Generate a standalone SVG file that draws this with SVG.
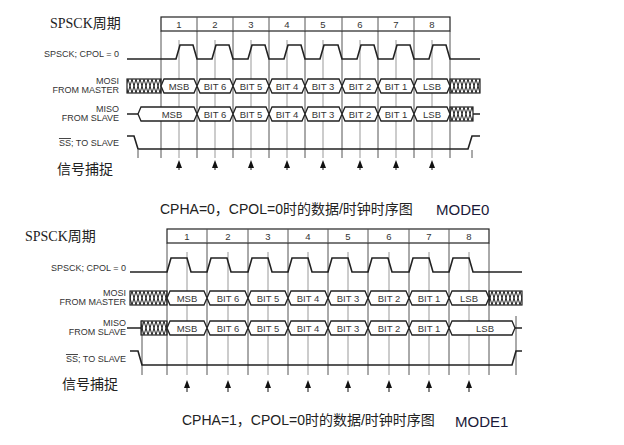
<svg xmlns="http://www.w3.org/2000/svg" width="624" height="445" viewBox="0 0 624 445">
<defs>
<pattern id="hT" width="4" height="14" patternUnits="userSpaceOnUse" y="79"><path d="M0,0 L4,14 M0,14 L4,0" stroke="#222" stroke-width="1" fill="none"/></pattern>
<pattern id="hT2" width="4" height="14" patternUnits="userSpaceOnUse" y="107"><path d="M0,0 L4,14 M0,14 L4,0" stroke="#222" stroke-width="1" fill="none"/></pattern>
<pattern id="hB" width="4" height="14" patternUnits="userSpaceOnUse" y="291"><path d="M0,0 L4,14 M0,14 L4,0" stroke="#222" stroke-width="1" fill="none"/></pattern>
<pattern id="hB2" width="4" height="14" patternUnits="userSpaceOnUse" y="321"><path d="M0,0 L4,14 M0,14 L4,0" stroke="#222" stroke-width="1" fill="none"/></pattern>
<path id="ah" d="M-3,8 L0,0 L3,8 Z" fill="#111"/>
</defs>
<style>
.lb{font-family:"Liberation Sans",Arial,sans-serif;font-size:9px;fill:#333;text-anchor:end}
.ct{font-family:"Liberation Sans",Arial,sans-serif;font-size:9.5px;fill:#333;text-anchor:middle}
.hd{font-family:"Liberation Serif","Noto Sans CJK SC",serif;font-size:14px;fill:#222}
.cn{font-family:"Noto Sans CJK SC",sans-serif;font-size:14px;fill:#222}
.cap{font-family:"Liberation Sans","Noto Sans CJK SC",sans-serif;font-size:14px;fill:#222}
.mode{font-family:"Liberation Sans",Arial,sans-serif;font-size:15px;fill:#1a1a3a}
.w{fill:none;stroke:#222;stroke-width:1.6}
.cell{fill:#fff;stroke:#222;stroke-width:1.3}
.g{stroke:#555;stroke-width:1}
.gl{stroke:#999;stroke-width:1}
.ar{stroke:#111;stroke-width:1}
</style>

<g id="top">
<g id="top-guides">
<path class="g" d="M161,31V158 M197,31V158 M233,31V158 M269,31V158 M305,31V158 M342,31V158 M378,31V158 M414,31V158 M450,31V158 M138,150V158 M472,150V158"/>
<path class="gl" d="M179,40V158 M215,40V158 M251,40V158 M287,40V158 M323,40V158 M360,40V158 M396,40V158 M432,40V158"/>
</g>
<g id="top-header">
<rect x="161" y="17" width="289" height="14" fill="#fff" stroke="#222" stroke-width="1.2"/>
<path class="g" stroke="#222" d="M197,17V31 M233,17V31 M269,17V31 M305,17V31 M342,17V31 M378,17V31 M414,17V31"/>
<text class="ct" x="179" y="28">1</text><text class="ct" x="215" y="28">2</text><text class="ct" x="251" y="28">3</text><text class="ct" x="287" y="28">4</text><text class="ct" x="323" y="28">5</text><text class="ct" x="360" y="28">6</text><text class="ct" x="396" y="28">7</text><text class="ct" x="432" y="28">8</text>
</g>
<g id="top-clk"><path class="w" d="M127,59 H176 L180,45 H193 L197,59 H212 L216,45 H229 L233,59 H248 L252,45 H265 L269,59 H284 L288,45 H301 L305,59 H320 L324,45 H338 L342,59 H357 L361,45 H374 L378,59 H393 L397,45 H410 L414,59 H429 L433,45 H446 L450,59 H480"/></g>
<g id="top-mosi">
<rect x="127" y="79" width="34" height="14" fill="url(#hT)" stroke="#222" stroke-width="1.2"/>
<rect x="450" y="79" width="30" height="14" fill="url(#hT)" stroke="#222" stroke-width="1.2"/>
<path class="cell" d="M161,86 L164,79 H194 L197,86 L194,93 H164 Z M197,86 L200,79 H230 L233,86 L230,93 H200 Z M233,86 L236,79 H266 L269,86 L266,93 H236 Z M269,86 L272,79 H302 L305,86 L302,93 H272 Z M305,86 L308,79 H339 L342,86 L339,93 H308 Z M342,86 L345,79 H375 L378,86 L375,93 H345 Z M378,86 L381,79 H411 L414,86 L411,93 H381 Z M414,86 L417,79 H447 L450,86 L447,93 H417 Z"/>
<text class="ct" x="179" y="89.5">MSB</text><text class="ct" x="215" y="89.5">BIT 6</text><text class="ct" x="251" y="89.5">BIT 5</text><text class="ct" x="287" y="89.5">BIT 4</text><text class="ct" x="323" y="89.5">BIT 3</text><text class="ct" x="360" y="89.5">BIT 2</text><text class="ct" x="396" y="89.5">BIT 1</text><text class="ct" x="432" y="89.5">LSB</text>
</g>
<g id="top-miso">
<path class="w" d="M127,114 H138 M473,114 H480"/>
<rect x="450" y="107" width="23" height="14" fill="url(#hT2)" stroke="#222" stroke-width="1.2"/>
<path class="cell" d="M138,114 L141,107 H194 L197,114 L194,121 H141 Z M197,114 L200,107 H230 L233,114 L230,121 H200 Z M233,114 L236,107 H266 L269,114 L266,121 H236 Z M269,114 L272,107 H302 L305,114 L302,121 H272 Z M305,114 L308,107 H339 L342,114 L339,121 H308 Z M342,114 L345,107 H375 L378,114 L375,121 H345 Z M378,114 L381,107 H411 L414,114 L411,121 H381 Z M414,114 L417,107 H447 L450,114 L447,121 H417 Z"/>
<text class="ct" x="172" y="117.5">MSB</text><text class="ct" x="215" y="117.5">BIT 6</text><text class="ct" x="251" y="117.5">BIT 5</text><text class="ct" x="287" y="117.5">BIT 4</text><text class="ct" x="323" y="117.5">BIT 3</text><text class="ct" x="360" y="117.5">BIT 2</text><text class="ct" x="396" y="117.5">BIT 1</text><text class="ct" x="432" y="117.5">LSB</text>
</g>
<g id="top-ss"><path class="w" d="M127,136 H134 L138,149 H468 L472,136 H480"/></g>
<g id="top-arrows">
<path class="ar" d="M179,170V166 M215,170V166 M251,170V166 M287,170V166 M323,170V166 M360,170V166 M396,170V166 M432,170V166"/>
<use href="#ah" x="179" y="160"/><use href="#ah" x="215" y="160"/><use href="#ah" x="251" y="160"/><use href="#ah" x="287" y="160"/><use href="#ah" x="323" y="160"/><use href="#ah" x="360" y="160"/><use href="#ah" x="396" y="160"/><use href="#ah" x="432" y="160"/>
</g>
<g id="top-labels">
<text class="hd" x="50" y="28">SPSCK周期</text>
<text class="lb" x="119" y="57">SPSCK; CPOL = 0</text>
<text class="lb" x="119" y="84">MOSI</text><text class="lb" x="119" y="93">FROM MASTER</text>
<text class="lb" x="119" y="112">MISO</text><text class="lb" x="119" y="121">FROM SLAVE</text>
<text class="lb" x="119" y="146"><tspan text-decoration="overline">SS</tspan>; TO SLAVE</text>
<text class="cn" x="57" y="174">信号捕捉</text>
<text class="cap" x="160" y="214">CPHA=0，CPOL=0时的数据/时钟时序图</text>
<text class="mode" x="436" y="215">MODE0</text>
</g>
</g>

<g id="bottom">
<g id="bot-guides">
<path class="g" d="M167,243V375 M207,243V375 M248,243V375 M288,243V375 M328,243V375 M368,243V375 M409,243V375 M449,243V375 M489,243V375 M142,320V375 M516,316V375"/>
<path class="gl" d="M187,252V375 M228,252V375 M268,252V375 M308,252V375 M348,252V375 M389,252V375 M429,252V375 M469,252V375"/>
</g>
<g id="bot-header">
<rect x="167" y="229" width="322" height="14" fill="#fff" stroke="#222" stroke-width="1.2"/>
<path class="g" stroke="#222" d="M207,229V243 M248,229V243 M288,229V243 M328,229V243 M368,229V243 M409,229V243 M449,229V243"/>
<text class="ct" x="187" y="240">1</text><text class="ct" x="228" y="240">2</text><text class="ct" x="268" y="240">3</text><text class="ct" x="308" y="240">4</text><text class="ct" x="348" y="240">5</text><text class="ct" x="389" y="240">6</text><text class="ct" x="429" y="240">7</text><text class="ct" x="469" y="240">8</text>
</g>
<g id="bot-clk"><path class="w" d="M130,272 H167 L171,258 H187 L191,272 H207 L211,258 H227 L231,272 H248 L252,258 H268 L272,272 H288 L292,258 H308 L312,272 H328 L332,258 H348 L352,272 H368 L372,258 H388 L392,272 H409 L413,258 H429 L433,272 H449 L453,258 H469 L473,272 H522"/></g>
<g id="bot-mosi">
<rect x="130" y="291" width="37" height="14" fill="url(#hB)" stroke="#222" stroke-width="1.2"/>
<rect x="489" y="291" width="33" height="14" fill="url(#hB)" stroke="#222" stroke-width="1.2"/>
<path class="cell" d="M167,298 L170,291 H204 L207,298 L204,305 H170 Z M207,298 L210,291 H245 L248,298 L245,305 H210 Z M248,298 L251,291 H285 L288,298 L285,305 H251 Z M288,298 L291,291 H325 L328,298 L325,305 H291 Z M328,298 L331,291 H365 L368,298 L365,305 H331 Z M368,298 L371,291 H406 L409,298 L406,305 H371 Z M409,298 L412,291 H446 L449,298 L446,305 H412 Z M449,298 L452,291 H486 L489,298 L486,305 H452 Z"/>
<text class="ct" x="187" y="301.5">MSB</text><text class="ct" x="228" y="301.5">BIT 6</text><text class="ct" x="268" y="301.5">BIT 5</text><text class="ct" x="308" y="301.5">BIT 4</text><text class="ct" x="348" y="301.5">BIT 3</text><text class="ct" x="389" y="301.5">BIT 2</text><text class="ct" x="429" y="301.5">BIT 1</text><text class="ct" x="469" y="301.5">LSB</text>
</g>
<g id="bot-miso">
<path class="w" d="M127,328 H141 M515,328 H522"/>
<rect x="141" y="321" width="26" height="14" fill="url(#hB2)" stroke="#222" stroke-width="1.2"/>
<path class="cell" d="M167,328 L170,321 H204 L207,328 L204,335 H170 Z M207,328 L210,321 H245 L248,328 L245,335 H210 Z M248,328 L251,321 H285 L288,328 L285,335 H251 Z M288,328 L291,321 H325 L328,328 L325,335 H291 Z M328,328 L331,321 H365 L368,328 L365,335 H331 Z M368,328 L371,321 H406 L409,328 L406,335 H371 Z M409,328 L412,321 H446 L449,328 L446,335 H412 Z M449,328 L452,321 H512 L515,328 L512,335 H452 Z"/>
<text class="ct" x="187" y="331.5">MSB</text><text class="ct" x="228" y="331.5">BIT 6</text><text class="ct" x="268" y="331.5">BIT 5</text><text class="ct" x="308" y="331.5">BIT 4</text><text class="ct" x="348" y="331.5">BIT 3</text><text class="ct" x="389" y="331.5">BIT 2</text><text class="ct" x="429" y="331.5">BIT 1</text><text class="ct" x="485" y="331.5">LSB</text>
</g>
<g id="bot-ss"><path class="w" d="M130,351 H138 L142,365 H512 L516,351 H522"/></g>
<g id="bot-arrows">
<path class="ar" d="M187,392V387 M228,392V387 M268,392V387 M308,392V387 M348,392V387 M389,392V387 M429,392V387 M469,392V387"/>
<use href="#ah" x="187" y="380"/><use href="#ah" x="228" y="380"/><use href="#ah" x="268" y="380"/><use href="#ah" x="308" y="380"/><use href="#ah" x="348" y="380"/><use href="#ah" x="389" y="380"/><use href="#ah" x="429" y="380"/><use href="#ah" x="469" y="380"/>
</g>
<g id="bot-labels">
<text class="hd" x="25" y="241">SPSCK周期</text>
<text class="lb" x="126" y="271">SPSCK; CPOL = 0</text>
<text class="lb" x="126" y="296">MOSI</text><text class="lb" x="126" y="305">FROM MASTER</text>
<text class="lb" x="126" y="326">MISO</text><text class="lb" x="126" y="335">FROM SLAVE</text>
<text class="lb" x="126" y="362"><tspan text-decoration="overline">SS</tspan>; TO SLAVE</text>
<text class="cn" x="62" y="389">信号捕捉</text>
<text class="cap" x="182" y="425">CPHA=1，CPOL=0时的数据/时钟时序图</text>
<text class="mode" x="455" y="427">MODE1</text>
</g>
</g>
</svg>
